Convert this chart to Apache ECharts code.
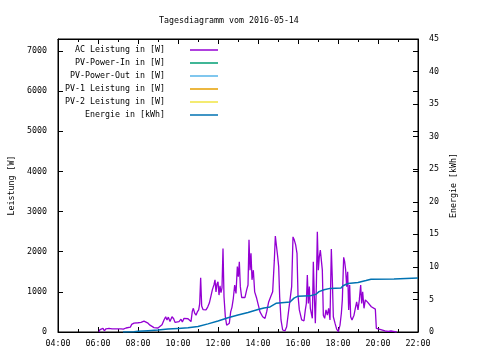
<!DOCTYPE html>
<html><head><meta charset="utf-8">
<script src="https://cdn.jsdelivr.net/npm/echarts@6/dist/echarts.min.js"></script>
<style>html,body{margin:0;padding:0;background:#fff}#c{width:480px;height:360px}</style>
</head><body><div id="c"></div>
<script>
const chartTitle = 'Tagesdiagramm vom 2016-05-14';
const seriesNames = ['AC Leistung in [W]', 'PV-Power-In in [W]', 'PV-Power-Out in [W]', 'PV-1 Leistung in [W]', 'PV-2 Leistung in [W]', 'Energie in [kWh]'];
const seriesColors = ['#9400d3', '#009e73', '#56b4e9', '#e69f00', '#f0e442', '#0072b2'];
const xTickLabels = ['04:00', '06:00', '08:00', '10:00', '12:00', '14:00', '16:00', '18:00', '20:00', '22:00'];
const leftAxisName = 'Leistung [W]';
const rightAxisName = 'Energie [kWh]';

const acTime = ['06:03','06:06','06:10','06:15','06:19','06:24','06:28','06:33','06:37','06:42','06:48','06:54','07:00','07:09','07:16','07:24','07:30','07:37','07:41','07:48',
'08:00','08:09','08:18','08:24','08:30','08:36','08:42','08:48','08:54','09:00','09:06','09:12','09:18','09:23','09:27','09:31','09:36','09:42','09:47','09:51','09:57',
'10:03','10:09','10:13','10:18','10:24','10:30','10:36','10:39','10:43','10:46','10:50','10:54','10:58','11:02','11:05','11:08','11:11','11:15','11:19','11:24','11:29','11:34','11:39','11:43','11:48','11:51','11:54','11:57',
'12:00','12:03','12:06','12:09','12:12','12:15','12:18','12:22','12:26','12:31','12:34','12:38','12:42','12:46','12:50','12:54','12:58','13:01','13:04','13:07','13:11','13:16','13:21','13:26','13:30','13:33','13:36','13:39','13:42','13:46','13:50','13:56',
'14:01','14:06','14:14','14:21','14:26','14:32','14:38','14:44','14:49','14:52','14:56','14:59','15:02','15:05','15:09','15:14','15:21','15:26','15:31','15:36','15:41','15:45','15:49','15:53','15:57',
'16:00','16:04','16:11','16:18','16:22','16:25','16:28','16:31','16:34','16:37','16:41','16:43','16:46','16:49','16:52','16:55','16:58','17:01','17:04','17:07','17:10','17:13','17:16','17:20','17:24','17:28','17:32','17:36','17:40','17:43','17:46','17:51','17:56',
'18:01','18:06','18:10','18:13','18:17','18:20','18:23','18:26','18:29','18:32','18:35','18:38','18:42','18:48','18:53','18:56','19:00','19:04','19:08','19:11','19:14','19:18','19:22','19:28','19:34','19:40','19:46','19:52','19:55',
'20:01','20:11','20:21','20:31','20:39','20:46','20:51','20:56'];
const acPower = [0,60,40,90,30,80,40,90,50,80,60,80,90,80,70,100,110,120,190,220,
230,240,270,250,220,170,130,110,90,100,130,180,300,380,300,370,260,380,330,240,220,
260,320,250,340,300,330,300,260,520,590,470,420,500,550,700,1350,650,560,520,550,620,720,900,1050,1180,1300,1000,1200,
1250,920,1150,980,1100,2080,880,380,170,130,220,500,620,840,1170,960,1630,1380,1750,1130,860,820,860,1050,1170,2300,1540,1960,1300,1540,1000,840,
670,500,380,340,500,750,880,1000,1790,2390,2410,1880,1630,880,300,50,30,130,470,800,1130,2370,2290,2170,1960,
920,550,300,280,550,710,1420,710,1130,590,420,340,1750,880,220,1130,2500,1540,1880,2040,2080,1540,420,340,550,420,590,300,2070,1300,380,220,70,
10,170,460,800,1860,1750,1540,1130,1500,550,1170,380,300,420,630,750,550,800,1170,710,1000,590,800,750,710,630,590,570,90,
70,50,25,15,25,15,20,0];

const energyTime = ['07:15','07:48','08:00','08:30','09:00','09:30','10:00','10:30','11:00','11:30','12:00','12:30','13:00','13:30','14:00','14:18','14:36','14:54','15:00','15:36','15:48','16:00','16:36','16:54','17:03','17:18','17:36','18:09','18:15','18:30','19:00','19:06','19:24','19:39','20:48','20:51','22:00'];
const energyKWh = [0,0.05,0.1,0.2,0.3,0.45,0.55,0.65,0.85,1.25,1.7,2.2,2.6,3.0,3.45,3.7,3.85,4.4,4.55,4.6,5.2,5.5,5.55,5.8,6.2,6.5,6.7,6.75,7.1,7.45,7.6,7.75,7.9,8.1,8.15,8.3,8.3];

// series without recorded values on this day
const pvInTime = [], pvInPower = [];
const pvOutTime = [], pvOutPower = [];
const pv1Time = [], pv1Power = [];
const pv2Time = [], pv2Power = [];

function toHours(t) { const p = t.split(':'); return +p[0] + (+p[1]) / 60; }
function pairs(ts, vs) { return ts.map((t, i) => [toHours(t), vs[i]]); }

const FONT = 'DejaVu Sans Mono';
const FS = 8.3;
const chart = echarts.init(document.getElementById('c'), null, { renderer: 'canvas' });

const xBase = {
  type: 'value', min: 4, max: 22, interval: 2,
  axisLine: { show: true, onZero: false, lineStyle: { color: '#000', width: 1 } },
  axisTick: { show: true, inside: true, length: 5, lineStyle: { color: '#000' } },
  minorTick: { show: true, splitNumber: 2, length: 3, lineStyle: { color: '#000' } },
  splitLine: { show: false }
};

const dataSets = [
  pairs(acTime, acPower), pairs(pvInTime, pvInPower), pairs(pvOutTime, pvOutPower),
  pairs(pv1Time, pv1Power), pairs(pv2Time, pv2Power), pairs(energyTime, energyKWh)
];

chart.setOption({
  animation: false,
  backgroundColor: '#fff',
  textStyle: { fontFamily: FONT },
  title: {
    text: chartTitle, left: 154, top: 12,
    textStyle: { fontFamily: FONT, fontSize: FS, fontWeight: 'normal', color: '#000' }
  },
  legend: {
    orient: 'vertical', align: 'right', right: 262, top: 45, padding: 0,
    itemGap: 3, itemWidth: 28, itemHeight: 1.5, icon: 'rect',
    textStyle: { fontFamily: FONT, fontSize: FS, color: '#000', padding: [0, 20, 0, 0], lineHeight: 10 },
    data: seriesNames
  },
  grid: { left: 58, right: 62, top: 39, bottom: 28, containLabel: false, show: true, borderColor: '#000', borderWidth: 1 },
  xAxis: [
    Object.assign({}, xBase, {
      position: 'bottom',
      axisLabel: { show: true, margin: 8, color: '#000', fontFamily: FONT, fontSize: FS,
        formatter: v => xTickLabels[Math.round((v - 4) / 2)] }
    }),
    Object.assign({}, xBase, { position: 'top', axisLabel: { show: false } })
  ],
  yAxis: [
    {
      type: 'value', min: 0, max: 7300, interval: 1000, position: 'left',
      name: leftAxisName, nameLocation: 'middle', nameGap: 41, nameRotate: 90,
      nameTextStyle: { fontFamily: FONT, fontSize: FS, color: '#000' },
      axisLine: { show: true, lineStyle: { color: '#000' } },
      axisTick: { show: true, inside: true, length: 5, lineStyle: { color: '#000' } },
      axisLabel: { color: '#000', fontFamily: FONT, fontSize: FS, margin: 11, showMaxLabel: false,
        formatter: v => (v % 1000 === 0 ? String(v) : '') },
      splitLine: { show: false }
    },
    {
      type: 'value', min: 0, max: 45, interval: 5, position: 'right',
      name: rightAxisName, nameLocation: 'middle', nameGap: 30, nameRotate: 90,
      nameTextStyle: { fontFamily: FONT, fontSize: FS, color: '#000' },
      axisLine: { show: true, lineStyle: { color: '#000' } },
      axisTick: { show: true, inside: true, length: 5, lineStyle: { color: '#000' } },
      axisLabel: { color: '#000', fontFamily: FONT, fontSize: FS, margin: 11 },
      splitLine: { show: false }
    },
    {
      type: 'value', min: 0, max: 7300, interval: 1000, position: 'right',
      axisLine: { show: false },
      axisTick: { show: true, inside: true, length: 5, lineStyle: { color: '#000' } },
      axisLabel: { show: false },
      splitLine: { show: false }
    }
  ],
  series: seriesNames.map((name, i) => ({
    name: name, type: 'line', yAxisIndex: i === 5 ? 1 : 0,
    data: dataSets[i], symbol: 'none', showSymbol: false,
    color: seriesColors[i],
    lineStyle: { color: seriesColors[i], width: i === 5 ? 1.5 : 1.3 },
    z: 2 + i
  }))
});
</script>
</body></html>
